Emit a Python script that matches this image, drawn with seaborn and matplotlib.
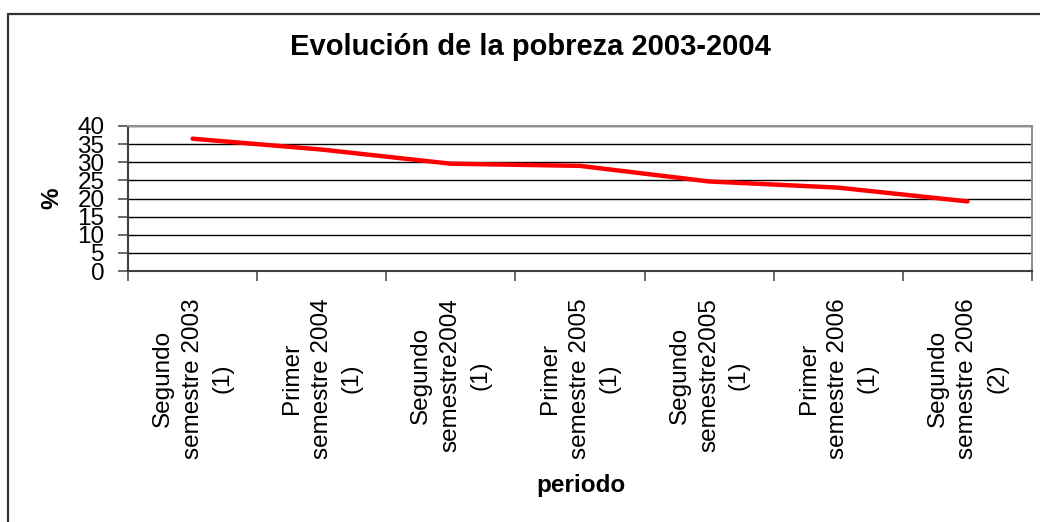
import numpy as np
import pandas as pd
import matplotlib
matplotlib.use("Agg")
import matplotlib.pyplot as plt
from matplotlib.lines import Line2D
import seaborn as sns

# data
periodos = [
    "Segundo\nsemestre 2003\n(1)",
    "Primer\nsemestre 2004\n(1)",
    "Segundo\nsemestre2004\n(1)",
    "Primer\nsemestre 2005\n(1)",
    "Segundo\nsemestre2005\n(1)",
    "Primer\nsemestre 2006\n(1)",
    "Segundo\nsemestre 2006\n(2)",
]
pobreza = [36.5, 33.5, 29.6, 29.0, 24.7, 23.0, 19.2]
y_ticks = [0, 5, 10, 15, 20, 25, 30, 35, 40]

df = pd.DataFrame({"periodo": periodos, "pct": pobreza})

sns.set_theme(style="white")
plt.rcParams["font.family"] = ["Liberation Sans", "DejaVu Sans"]
plt.rcParams["text.color"] = "black"
plt.rcParams["xtick.labelcolor"] = "black"
plt.rcParams["ytick.labelcolor"] = "black"
plt.rcParams["axes.labelcolor"] = "black"

W, H = 1040, 522
fig = plt.figure(figsize=(W / 100, H / 100), dpi=100)
ax = fig.add_axes([128 / W, 1 - 271 / H, (1032 - 128) / W, (271 - 126) / H])

sns.lineplot(data=df, x="periodo", y="pct", sort=False, color="#ff0000",
             linewidth=3.2, ax=ax)

ax.set_xlim(-0.5, len(periodos) - 0.5)
ax.set_ylim(0, 40)
ax.set_yticks(y_ticks)
ax.set_yticklabels([str(v) for v in y_ticks], fontsize=17.5)

# category labels at centres, tick marks at boundaries
ax.set_xticks(range(len(periodos)))
ax.set_xticklabels(periodos, rotation=90, fontsize=17.5, ha="center", va="top",
                   multialignment="center", linespacing=1.45)
ax.set_xticks(np.arange(-0.5, len(periodos), 1.0), minor=True)
ax.tick_params(axis="x", which="major", length=0, pad=19.5)
ax.tick_params(axis="x", which="minor", length=7, width=1.2, color="#505050",
               direction="out", bottom=True)
ax.tick_params(axis="y", length=7, width=1.2, color="#505050", direction="out",
               left=True, pad=10)

ax.yaxis.grid(True, color="#000000", linewidth=1.0)
ax.xaxis.grid(False)
ax.set_axisbelow(True)

for side in ["top", "right"]:
    ax.spines[side].set_color("#909090")
    ax.spines[side].set_linewidth(1.5)
for side in ["left", "bottom"]:
    ax.spines[side].set_color("#404040")
    ax.spines[side].set_linewidth(1.5)

ax.set_xlabel("periodo", fontsize=17.5, fontweight="bold", va="center")
ax.xaxis.set_label_coords((581 - 128) / (1032 - 128), (271 - 485) / (271 - 126))
ax.set_ylabel("%", fontsize=17.5, fontweight="bold", va="center")
ax.yaxis.set_label_coords((52 - 128) / (1032 - 128), 0.5)

fig.text(530 / W, 1 - 47 / H, "Evolución de la pobreza 2003-2004",
         ha="center", va="center", fontsize=21, fontweight="bold")

# chart frame (only left and top edges visible in the crop)
fig.add_artist(Line2D([8 / W, 8 / W], [0, 1 - 14 / H], color="#333333", linewidth=1.6))
fig.add_artist(Line2D([8 / W, 1], [1 - 14 / H, 1 - 14 / H], color="#333333", linewidth=1.6))

fig.savefig("out.png", dpi=100)
